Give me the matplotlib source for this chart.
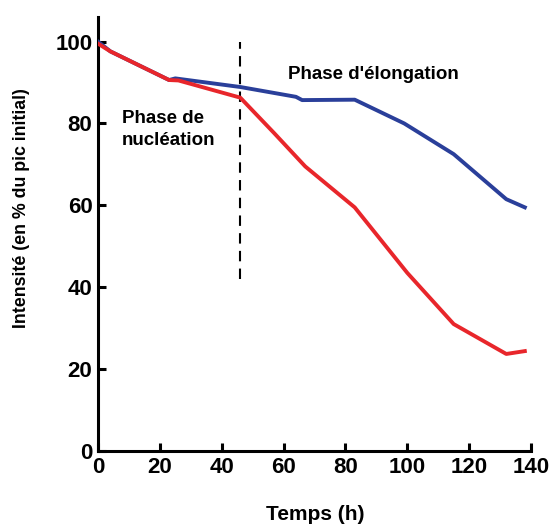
import matplotlib
matplotlib.use("Agg")
import matplotlib.pyplot as plt

# Data
blue_x = [0, 4, 23, 25, 46, 58, 64, 66, 83, 99, 115, 132, 138]
blue_y = [100, 97.6, 90.6, 91.0, 88.9, 87.3, 86.5, 85.7, 85.8, 80.0, 72.5, 61.5, 59.5]
red_x = [0, 4, 23, 26, 46, 57, 67, 83, 100, 115, 132, 138]
red_y = [99.5, 97.6, 90.6, 90.5, 86.3, 77.6, 69.5, 59.5, 43.5, 31.0, 23.7, 24.4]
x_ticks = [0, 20, 40, 60, 80, 100, 120, 140]
y_ticks = [0, 20, 40, 60, 80, 100]
phase_boundary = 46

plt.rcParams['font.family'] = ['Liberation Sans', 'DejaVu Sans']

fig = plt.figure(figsize=(5.52, 5.24), dpi=100)
ax = fig.add_axes([0.1775, 0.1393, 0.7845, 0.8283])

ax.plot(blue_x, blue_y, color='#2a3f9a', lw=2.8, solid_joinstyle='round', zorder=3)
ax.plot(red_x, red_y, color='#e8262b', lw=2.8, solid_joinstyle='round', zorder=4)
ax.plot([phase_boundary, phase_boundary], [42, 100], color='black', lw=1.5,
        dashes=(5, 3.5), zorder=2)

ax.text(7.8, 81.2, 'Phase de', fontsize=13.5, fontweight='bold', va='center', ha='left')
ax.text(7.8, 75.9, 'nucléation', fontsize=13.5, fontweight='bold', va='center', ha='left')
ax.text(61.4, 92, "Phase d'élongation", fontsize=13.5, fontweight='bold', va='center', ha='left')

ax.set_xlim(0, 140)
ax.set_ylim(0, 106)
ax.set_xticks(x_ticks)
ax.set_yticks(y_ticks)
ax.spines['top'].set_visible(False)
ax.spines['right'].set_visible(False)
ax.spines['left'].set_linewidth(2.2)
ax.spines['bottom'].set_linewidth(2.2)
ax.spines['bottom'].set_bounds(0, 140)
ax.tick_params(direction='in', length=6, width=2.2, labelsize=16, pad=4)
for lab in ax.get_xticklabels() + ax.get_yticklabels():
    lab.set_fontweight('bold')

fig.text(315/552, 1 - 515/524, 'Temps (h)', fontsize=15, fontweight='bold',
         ha='center', va='center')
fig.text(22/552, 1 - 208/524, 'Intensité (en % du pic initial)', fontsize=12.8,
         fontweight='bold', ha='center', va='center', rotation=90)

fig.savefig('out.png', dpi=100)
